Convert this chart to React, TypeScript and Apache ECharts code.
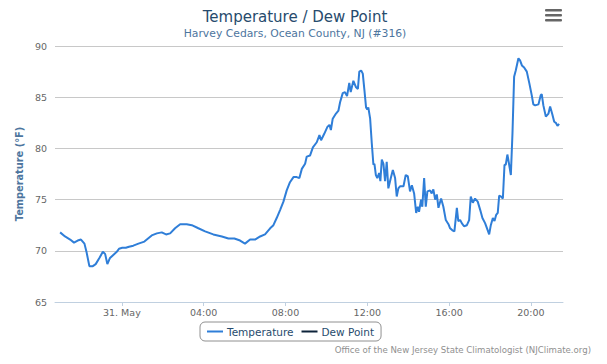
import React, { useEffect, useRef } from "react";
import * as echarts from "echarts";

// Hours relative to midnight of 31 May (negative = 30 May)
const hours: number[] = [
  -3.02, -2.78, -2.53, -2.34, -2.16, -2.0, -1.83, -1.72, -1.59, -1.42,
  -1.28, -1.1, -0.93, -0.82, -0.71, -0.58, -0.42, -0.25, -0.14, 0.02,
  0.19, 0.35, 0.56, 0.81, 1.1, 1.46, 1.71, 1.95, 2.16, 2.36,
  2.6, 2.85, 3.17, 3.42, 3.74, 4.07, 4.47, 4.89, 5.21, 5.5,
  5.78, 6.02, 6.27, 6.51, 6.76, 7.0, 7.25, 7.41, 7.57, 7.74,
  7.9, 8.06, 8.22, 8.39, 8.55, 8.68, 8.8, 8.96, 9.04, 9.2,
  9.34, 9.53, 9.66, 9.74, 9.89, 10.05, 10.15, 10.22, 10.31, 10.47,
  10.59, 10.67, 10.8, 10.91, 11.01, 11.12, 11.19, 11.32, 11.44, 11.54,
  11.61, 11.7, 11.78, 11.86, 11.94, 12.0, 12.05, 12.14, 12.22, 12.3,
  12.35, 12.42, 12.49, 12.58, 12.64, 12.71, 12.79, 12.87, 12.95, 13.03,
  13.15, 13.25, 13.36, 13.44, 13.52, 13.6, 13.77, 13.88, 13.98, 14.09,
  14.18, 14.29, 14.39, 14.47, 14.53, 14.63, 14.69, 14.78, 14.86, 14.94,
  15.07, 15.15, 15.23, 15.32, 15.4, 15.48, 15.61, 15.72, 15.84, 15.97,
  16.05, 16.16, 16.26, 16.38, 16.45, 16.54, 16.62, 16.73, 16.87, 16.98,
  17.06, 17.16, 17.27, 17.4, 17.52, 17.63, 17.76, 17.89, 17.96, 18.04,
  18.14, 18.22, 18.3, 18.38, 18.45, 18.54, 18.63, 18.71, 18.77, 18.85,
  18.93, 19.02, 19.1, 19.18, 19.26, 19.39, 19.47, 19.56, 19.67, 19.8,
  19.93, 20.04, 20.12, 20.21, 20.37, 20.48, 20.53, 20.61, 20.73, 20.86,
  20.94, 21.05, 21.14, 21.22, 21.3, 21.38,
];

const temperature: number[] = [
  71.8, 71.4, 71.1, 70.8, 71.0, 71.1, 70.7, 69.8, 68.5, 68.5,
  68.7, 69.3, 69.9, 69.7, 68.7, 69.3, 69.6, 69.9, 70.2, 70.3,
  70.3, 70.4, 70.5, 70.7, 70.9, 71.5, 71.7, 71.8, 71.6, 71.7,
  72.2, 72.6, 72.6, 72.5, 72.2, 71.9, 71.6, 71.4, 71.2, 71.2,
  71.0, 70.7, 71.1, 71.1, 71.4, 71.6, 72.2, 72.5, 73.2, 74.0,
  74.8, 75.9, 76.7, 77.2, 77.2, 77.1, 78.0, 78.5, 79.2, 79.3,
  80.1, 80.6, 81.3, 80.8, 81.4, 82.1, 82.3, 81.8, 82.9, 83.4,
  83.7, 84.5, 85.4, 85.5, 85.1, 86.4, 85.5, 86.6, 86.0, 85.8,
  87.5, 87.6, 87.3, 85.7, 84.0, 83.8, 84.0, 82.9, 80.5, 78.4,
  78.5, 77.4, 77.1, 77.6, 76.8, 78.9, 78.5, 76.8, 78.7, 76.1,
  77.1, 77.9, 77.1, 75.3, 76.1, 76.3, 76.3, 77.4, 77.3, 75.8,
  76.4, 75.6, 73.7, 74.3, 73.8, 75.0, 74.3, 77.1, 74.3, 75.8,
  75.9, 75.6, 76.0, 75.0, 75.5, 74.2, 75.1, 74.3, 73.0, 72.6,
  72.2, 72.0, 71.9, 74.2, 72.9, 73.0, 72.7, 72.4, 72.5, 73.0,
  75.3, 74.7, 75.1, 74.8, 74.0, 73.2, 72.7, 72.0, 71.6, 72.5,
  73.2, 72.9, 73.5, 73.7, 75.4, 75.3, 75.1, 78.4, 78.4, 79.4,
  78.5, 77.4, 81.5, 87.0, 87.6, 88.8, 88.6, 88.1, 87.9, 87.5,
  86.3, 85.2, 84.3, 84.2, 84.3, 85.2, 85.3, 84.2, 83.1, 83.4,
  84.1, 83.3, 82.6, 82.5, 82.2, 82.4,
];

// Dew point series appears in the legend only (no visible data)
const dewPoint: number[][] = [];

const xTickHours: number[] = [0, 4, 8, 12, 16, 20];
const xTickLabels: string[] = ["31. May", "04:00", "08:00", "12:00", "16:00", "20:00"];

const FONT = '"Lucida Grande", "Lucida Sans Unicode", "DejaVu Sans", Verdana, sans-serif';

export default function App() {
  const ref = useRef<HTMLDivElement>(null);

  useEffect(() => {
    document.body.style.margin = "0";
    if (!ref.current) return;
    const chart = echarts.init(ref.current, undefined, { renderer: "svg" });

    const tempData = hours.map((h, i) => [h, temperature[i]]);

    chart.setOption({
      animation: false,
      backgroundColor: "#ffffff",
      textStyle: { fontFamily: FONT },
      title: [
        {
          text: "Temperature / Dew Point",
          left: 290,
          top: 4,
          textAlign: "center",
          textStyle: { fontFamily: FONT, fontSize: 15, fontWeight: "normal", color: "#274b6d" },
        },
        {
          text: "Harvey Cedars, Ocean County, NJ (#316)",
          left: 290,
          top: 23,
          textAlign: "center",
          textStyle: { fontFamily: FONT, fontSize: 10.8, fontWeight: "normal", color: "#4d759e" },
        },
      ],
      legend: {
        data: [
          { name: "Temperature", icon: "rect" },
          { name: "Dew Point", icon: "rect" },
        ],
        left: 200,
        top: 322,
        orient: "horizontal",
        itemWidth: 16,
        itemHeight: 2,
        itemGap: 8,
        padding: [4, 7, 4, 7],
        borderColor: "#909090",
        borderWidth: 1,
        borderRadius: 5,
        textStyle: { fontFamily: FONT, fontSize: 10.5, color: "#274b6d", padding: [0, 0, 0, -1] },
      },
      grid: { left: 55, right: 44, top: 46, bottom: 62, containLabel: false },
      xAxis: {
        type: "value",
        min: -3.27,
        max: 21.57,
        splitLine: { show: false },
        axisLine: { show: true, lineStyle: { color: "#C0D0E0", width: 1 } },
        axisTick: {
          show: true,
          customValues: xTickHours,
          length: 4,
          lineStyle: { color: "#C0D0E0" },
        },
        axisLabel: {
          customValues: xTickHours,
          margin: 5,
          fontFamily: FONT,
          fontSize: 9.5,
          color: "#666666",
          formatter: (v: number) => {
            const i = xTickHours.indexOf(Math.round(v));
            return i >= 0 ? xTickLabels[i] : "";
          },
        },
      },
      yAxis: {
        type: "value",
        min: 65,
        max: 90,
        interval: 5,
        name: "Temperature (°F)",
        nameLocation: "middle",
        nameGap: 26,
        nameTextStyle: { fontFamily: FONT, fontSize: 9.8, fontWeight: "bold", color: "#4d759e" },
        axisLine: { show: false },
        axisTick: { show: false },
        axisLabel: { margin: 8, fontFamily: FONT, fontSize: 9.5, color: "#666666" },
        splitLine: { lineStyle: { color: "#C8C8C8", width: 1 } },
      },
      series: [
        {
          name: "Temperature",
          type: "line",
          data: tempData,
          showSymbol: false,
          symbol: "none",
          lineStyle: { color: "#2f7ed8", width: 2 },
          itemStyle: { color: "#2f7ed8" },
        },
        {
          name: "Dew Point",
          type: "line",
          data: dewPoint,
          showSymbol: false,
          symbol: "none",
          lineStyle: { color: "#0d233a", width: 2 },
          itemStyle: { color: "#0d233a" },
        },
      ],
      graphic: [
        { type: "rect", shape: { x: 545, y: 9, width: 17, height: 2.5, r: 1 }, style: { fill: "#666666" } },
        { type: "rect", shape: { x: 545, y: 14, width: 17, height: 2.5, r: 1 }, style: { fill: "#666666" } },
        { type: "rect", shape: { x: 545, y: 19, width: 17, height: 2.5, r: 1 }, style: { fill: "#666666" } },
        {
          type: "text",
          right: 16,
          top: 345,
          style: {
            text: "Office of the New Jersey State Climatologist (NJClimate.org)",
            font: `8.6px ${FONT}`,
            fill: "#909090",
          },
        },
      ],
    });

    return () => chart.dispose();
  }, []);

  return <div ref={ref} style={{ width: 607, height: 364 }} />;
}
